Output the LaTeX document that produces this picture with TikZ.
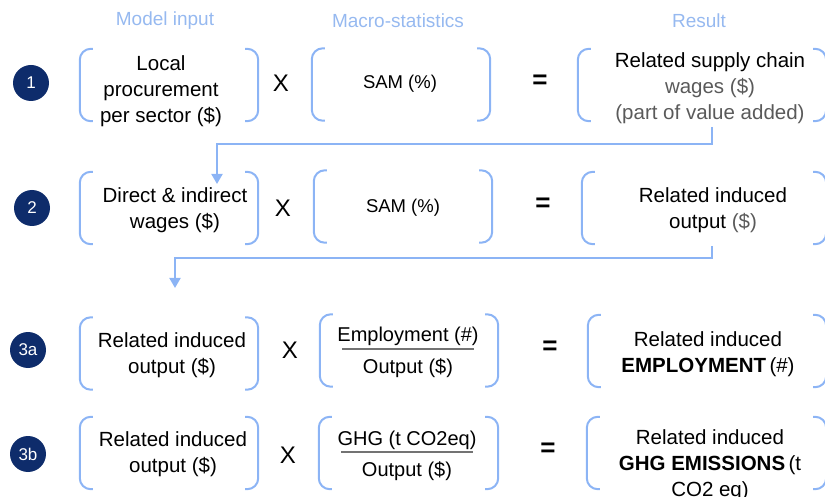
\documentclass[tikz,border=0pt]{standalone}
\usepackage{fontspec}
\setmainfont{Liberation Sans}
\usetikzlibrary{arrows.meta}
\definecolor{brblue}{RGB}{140,180,245}
\definecolor{navy}{RGB}{14,44,107}
\definecolor{hdr}{RGB}{150,185,240}
\definecolor{txtgray}{RGB}{90,90,90}
\definecolor{fracgray}{RGB}{115,115,115}
\begin{document}
\begin{tikzpicture}[x=1pt,y=-1pt,
  box/.style={draw=none, rectangle, inner sep=0pt, minimum width=#1, minimum height=72pt},
  br/.style={draw=brblue, line width=2pt, rounded corners=11pt},
  txt/.style={align=center, inner sep=0pt, font=\fontsize{20.5}{26}\selectfont, text=black},
  sam/.style={inner sep=0pt, font=\fontsize{18.5}{22}\selectfont},
  hdrtxt/.style={inner sep=0pt, text=hdr, font=\fontsize{19}{22}\selectfont},
  num/.style={circle, fill=navy, text=white, minimum size=36pt, inner sep=0pt, font=\fontsize{17}{18}\selectfont},
  op/.style={inner sep=0pt, font=\fontsize{24}{26}\selectfont},
  eq/.style={inner sep=0pt, font=\bfseries\fontsize{26}{26}\selectfont},
  conn/.style={draw=brblue, line width=2pt},
  fracline/.style={draw=fracgray, line width=2pt}
]
\useasboundingbox (0,0) rectangle (825,497);

% headers
\node[hdrtxt] (h1) at (165,21) {Model input};
\node[hdrtxt] (h2) at (398,21) {Macro-statistics};
\node[hdrtxt] (h3) at (699,21) {Result};

% number circles
\node[num] (n1) at (31,83) {1};
\node[num] (n2) at (32,208) {2};
\node[num] (n3a) at (28,350) {3a};
\node[num] (n3b) at (28,454) {3b};

% boxes
\node[box=178] (L1) at (169,85) {};
\node[box=178] (M1) at (401,84.5) {};
\node[box=248] (R1) at (702,85) {};
\node[box=178] (L2) at (169,208) {};
\node[box=178] (M2) at (403,206.5) {};
\node[box=244] (R2) at (704,208) {};
\node[box=178] (L3) at (169,353.5) {};
\node[box=178] (M3) at (409,350.5) {};
\node[box=238] (R3) at (707,351) {};
\node[box=178] (L4) at (169,453) {};
\node[box=179] (M4) at (408.5,453) {};
\node[box=239] (R4) at (706.5,453) {};

\foreach \n in {L1,M1,R1,L2,M2,R2,L3,M3,R3,L4,M4,R4}{
  \draw[br] ([xshift=13pt]\n.north west) -- (\n.north west) -- (\n.south west) -- ([xshift=13pt]\n.south west);
  \draw[br] ([xshift=-13pt]\n.north east) -- (\n.north east) -- (\n.south east) -- ([xshift=-13pt]\n.south east);
}

% row 1
\node[txt] (tL1) at (161,91) {Local\\procurement\\per sector (\$)};
\node[op] (x1) at (281,83) {X};
\node[sam] (tM1) at (400,84) {SAM (\%)};
\node[eq] (e1) at (540,82) {=};
\node[txt] (tR1) at (710,88) {Related supply chain\\\textcolor{txtgray}{wages (\$)}\\\textcolor{txtgray}{(part of value added)}};

% row 2
\node[txt] (tL2) at (175,210) {Direct \& indirect\\wages (\$)};
\node[op] (x2) at (283,208) {X};
\node[sam] (tM2) at (403,208) {SAM (\%)};
\node[eq] (e2) at (543,205) {=};
\node[txt] (tR2) at (713,210) {Related induced\\output \textcolor{txtgray}{(\$)}};

% row 3a
\node[txt] (tL3) at (172,355) {Related induced\\output (\$)};
\node[op] (x3) at (290,350) {X};
\node[txt, font=\fontsize{20}{26}\selectfont] (fn3) at (408,336) {Employment (\#)};
\node[txt, font=\fontsize{20}{26}\selectfont] (fd3) at (408,368) {Output (\$)};
\coordinate (fl3a) at (342,349);
\coordinate (fl3b) at (474,349);
\draw[fracline] (fl3a) -- (fl3b);
\node[eq] (e3) at (550,348) {=};
\node[txt] (tR3) at (708,354) {Related induced\\\textbf{EMPLOYMENT}\,(\#)};

% row 3b
\node[txt] (tL4) at (173,454) {Related induced\\output (\$)};
\node[op] (x4) at (288,455) {X};
\node[txt, font=\fontsize{20}{26}\selectfont] (fn4) at (407,440) {GHG (t CO2eq)};
\node[txt, font=\fontsize{20}{26}\selectfont] (fd4) at (407,471) {Output (\$)};
\coordinate (fl4a) at (341,452);
\coordinate (fl4b) at (473,452);
\draw[fracline] (fl4a) -- (fl4b);
\node[eq] (e4) at (548,450) {=};
\node[txt] (tR4) at (710,465) {Related induced\\\textbf{GHG EMISSIONS}\,(t\\CO2 eq)};

% connectors
\coordinate (c1s) at (712,127);
\coordinate (c1e) at (217,184);
\draw[conn, -{Triangle[width=11pt,length=10pt]}] (c1s) |- (217,144) -- (c1e);
\coordinate (c2s) at (712,246);
\coordinate (c2e) at (175,288);
\draw[conn, -{Triangle[width=11pt,length=10pt]}] (c2s) |- (175,258) -- (c2e);
\end{tikzpicture}
\end{document}
